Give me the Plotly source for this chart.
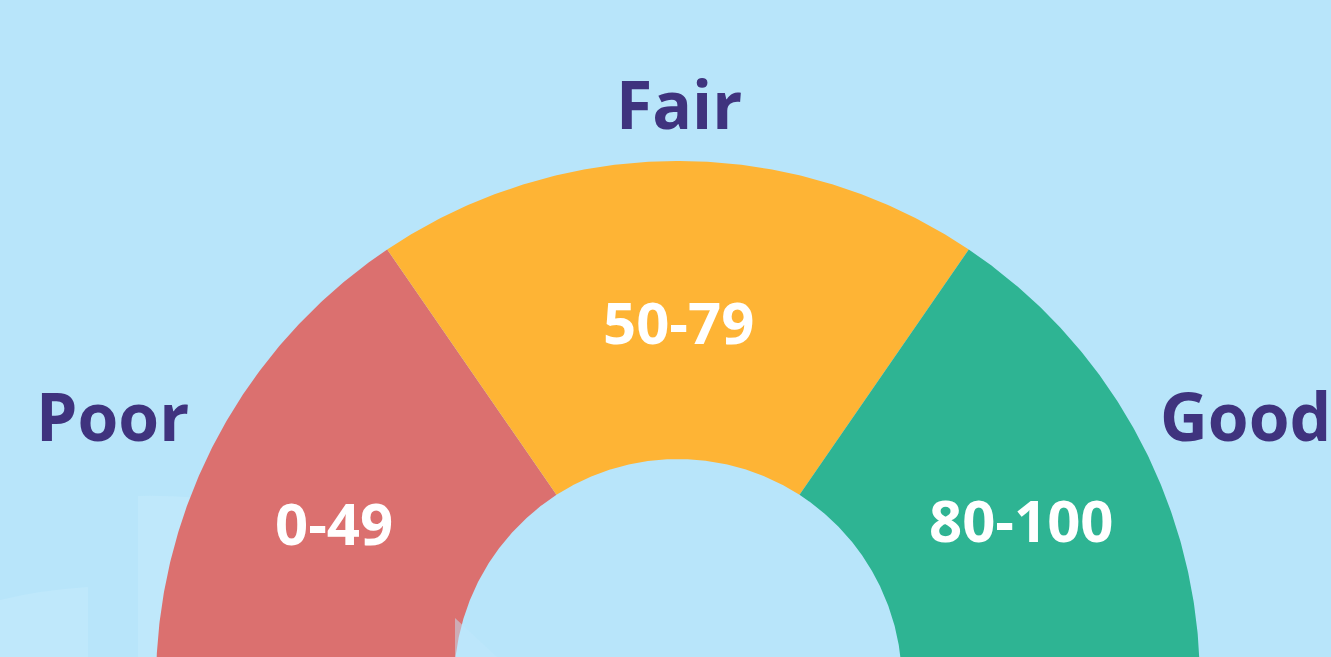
import numpy as np
import plotly.graph_objects as go

# ---- data ----
categories = ["Poor", "Fair", "Good"]
score_ranges = ["0-49", "50-79", "80-100"]
arc_spans_deg = [55.4, 69.2, 55.4]    # angular share of each band (seen from the divider apex)
colors = ["#DB706F", "#FEB435", "#2EB493"]

# ---- geometry (pixel-like data units, y up) ----
W, H = 1331, 657
cx, cy = 678, H - 683       # dial centre sits just below the visible area
apex_dy = 12                # dividers converge slightly above the centre
r_out, r_in = 522, 224
bg = "#B8E5FA"
label_color = "#3F337E"


def circle_angle(theta_deg, R):
    """angle (around the dial centre) where a divider ray from the apex meets radius R"""
    u = np.array([np.cos(np.radians(theta_deg)), np.sin(np.radians(theta_deg))])
    d = np.array([0.0, apex_dy])
    b = d @ u
    s = -b + np.sqrt(b * b - d @ d + R * R)
    p = d + s * u
    return np.degrees(np.arctan2(p[1], p[0]))


fig = go.Figure()

# faint decorative background shapes
deco = "#BFE8FB"
fig.add_shape(type="path", path=f"M 138 0 L 138 {H-496} Q 160 {H-495} 200 {H-498} L 200 0 Z",
              fillcolor=deco, line_width=0, layer="below")
fig.add_shape(type="path", path=f"M 0 0 L 0 {H-600} Q 40 {H-590} 88 {H-587} L 88 0 Z",
              fillcolor=deco, line_width=0, layer="below")

start = 180.0
for i, (name, rng, span, col) in enumerate(zip(categories, score_ranges, arc_spans_deg, colors)):
    end = start - span
    a0o = 180.0 if i == 0 else circle_angle(start, r_out)
    a0i = 180.0 if i == 0 else circle_angle(start, r_in)
    a1o = 0.0 if i == len(categories) - 1 else circle_angle(end, r_out)
    a1i = 0.0 if i == len(categories) - 1 else circle_angle(end, r_in)
    to = np.radians(np.linspace(a0o, a1o, 200))
    ti = np.radians(np.linspace(a1i, a0i, 200))
    xs = np.concatenate([cx + r_out * np.cos(to), cx + r_in * np.cos(ti)])
    ys = np.concatenate([cy + r_out * np.sin(to), cy + r_in * np.sin(ti)])
    fig.add_trace(go.Scatter(x=np.append(xs, xs[0]), y=np.append(ys, ys[0]),
                             fill="toself", fillcolor=col, mode="lines",
                             line=dict(width=0, color=col), hoverinfo="text",
                             text=f"{name}: {rng}", showlegend=False))
    start = end

# faint shape inside the hole
fig.add_shape(type="path", path=f"M 455 {H-618} L 497 0 L 455 0 Z",
              fillcolor=deco, line_width=0, layer="above", opacity=0.5)

# value labels
val_angle = [155, 90, 25.5]
val_r = [380, 362, 380]
for rng, a, r in zip(score_ranges, val_angle, val_r):
    fig.add_annotation(x=cx + r * np.cos(np.radians(a)), y=cy + r * np.sin(np.radians(a)),
                       text=f"<b>{rng}</b>", showarrow=False, xanchor="center", yanchor="middle",
                       font=dict(family="Open Sans", size=58, color="white"))

# category labels
cat_pos = [(112, H - 415, "center"), (679, H - 103, "center"), (1158, H - 415, "left")]
for name, (x, y, xa) in zip(categories, cat_pos):
    fig.add_annotation(x=x, y=y, text=f"<b>{name}</b>", showarrow=False, xanchor=xa,
                       yanchor="middle",
                       font=dict(family="Open Sans", size=66, color=label_color))

fig.update_layout(width=W, height=H, margin=dict(l=0, r=0, t=0, b=0),
                  paper_bgcolor=bg, plot_bgcolor=bg,
                  xaxis=dict(range=[0, W], visible=False, fixedrange=True),
                  yaxis=dict(range=[0, H], visible=False, fixedrange=True),
                  showlegend=False)
fig.write_html("out.html", config={"displayModeBar": False},
               post_script="document.body.style.margin='0';document.body.style.overflow='hidden';")
